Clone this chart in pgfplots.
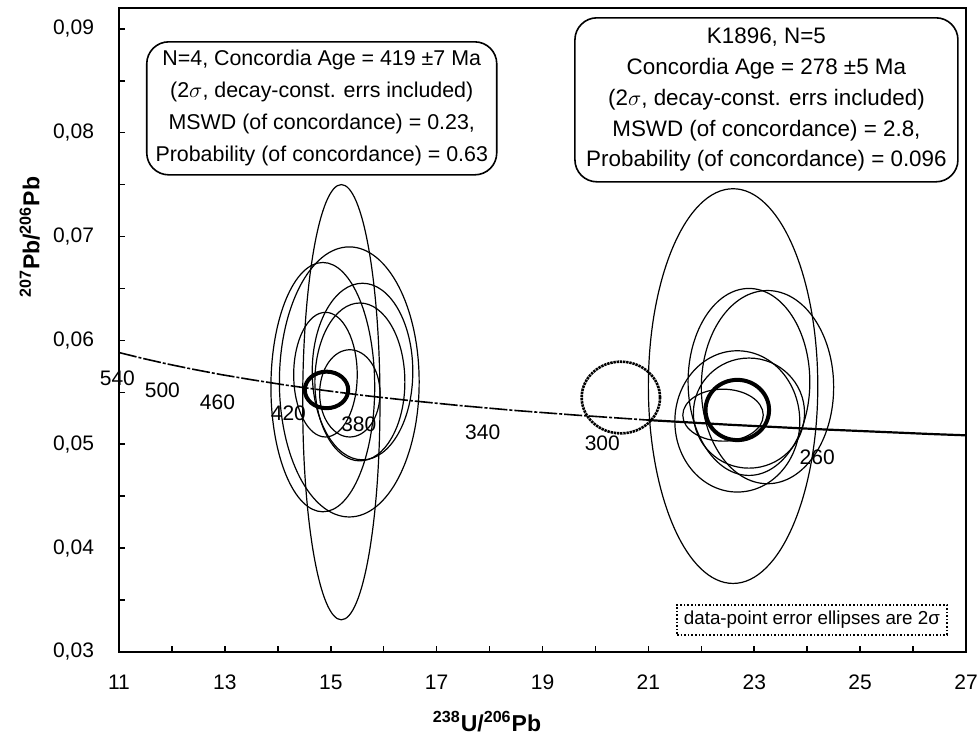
\documentclass[border=0pt]{standalone}
\usepackage{fontspec}
\setmainfont{Liberation Sans}
\usepackage{pgfplots}
\pgfplotsset{compat=1.18}
\begin{document}
\begin{tikzpicture}
\begin{axis}[
  name=ax,
  scale only axis,
  width=423.5pt, height=322pt,
  xmin=11, xmax=27, ymin=0.03, ymax=0.092,
  xtick={11,13,15,17,19,21,23,25,27},
  minor x tick num=1,
  ytick={0.03,0.04,0.05,0.06,0.07,0.08,0.09},
  minor y tick num=1,
  scaled y ticks=false,
  tick pos=left,
  tick align=inside,
  major tick length=3pt, minor tick length=3pt,
  axis line style={line width=1.2pt},
  tick style={black, line width=0.8pt},
  clip=false,
  /pgf/number format/assume math mode=true,
  ticklabel style={font=\fontsize{10.5}{12}\selectfont},
  yticklabel={\pgfmathprintnumber[fixed,fixed zerofill,precision=2,use comma]{\tick}},
  xticklabel={\pgfmathprintnumber[fixed,precision=0]{\tick}},
  xticklabel style={yshift=-8pt},
  yticklabel style={xshift=-9pt},
  xlabel={\textbf{\textsuperscript{238}U/\textsuperscript{206}Pb}},
  ylabel={\textbf{\textsuperscript{207}Pb/\textsuperscript{206}Pb}},
  label style={font=\fontsize{11.5}{13}\selectfont},
  xlabel style={at={(axis description cs:0.4345,0)}, anchor=north, yshift=-26pt},
  ylabel style={at={(axis description cs:0,0.644)}, anchor=south, xshift=0pt, yshift=36pt},
]
% concordia curve (20 Ma steps), older part
\addplot[black, line width=0.8pt, dash pattern=on 9pt off 1pt on 1.5pt off 1pt] table {
x y
11.000 0.05883
11.445 0.05827
11.904 0.05774
12.399 0.05722
12.936 0.05670
13.520 0.05620
14.157 0.05569
14.854 0.05520
15.621 0.05470
16.469 0.05422
17.411 0.05374
18.464 0.05326
19.649 0.05280
20.992 0.05233
};
% concordia curve, younger part
\addplot[black, line width=1.1pt] table {
x y
20.992 0.05233
22.527 0.05188
24.297 0.05143
26.363 0.05098
27.000 0.05086
};
% age labels
\begin{scope}[font=\fontsize{10.5}{12}\selectfont]
\node at (axis cs:10.97,0.05639) {540};
\node at (axis cs:11.82,0.05523) {500};
\node at (axis cs:12.86,0.05408) {460};
\node at (axis cs:14.20,0.05302) {420};
\node at (axis cs:15.53,0.05196) {380};
\node at (axis cs:17.87,0.05119) {340};
\node at (axis cs:20.13,0.05013) {300};
\node at (axis cs:24.19,0.04878) {260};
\end{scope}
% left group error ellipses
\begin{scope}[line width=0.6pt]
\draw (axis cs:15.20,0.05405) ellipse [x radius=0.73, y radius=0.02095];
\draw (axis cs:15.35,0.05600) ellipse [x radius=1.32, y radius=0.01300];
\draw (axis cs:14.85,0.05550) ellipse [x radius=0.98, y radius=0.01200];
\draw (axis cs:15.60,0.05700) ellipse [x radius=0.95, y radius=0.00850];
\draw (axis cs:15.55,0.05600) ellipse [x radius=0.85, y radius=0.00760];
\draw (axis cs:14.90,0.05670) ellipse [x radius=0.60, y radius=0.00600];
\draw (axis cs:15.36,0.05490) ellipse [x radius=0.57, y radius=0.00420];
\end{scope}
\draw[line width=2pt] (axis cs:14.92,0.05523) ellipse [x radius=0.41, y radius=0.00176];
% right group error ellipses
\begin{scope}[line width=0.6pt]
\draw (axis cs:22.60,0.05560) ellipse [x radius=1.60, y radius=0.01900];
\draw (axis cs:22.90,0.05600) ellipse [x radius=1.15, y radius=0.00900];
\draw (axis cs:23.25,0.05550) ellipse [x radius=1.25, y radius=0.00930];
\draw (axis cs:22.68,0.05220) ellipse [x radius=1.18, y radius=0.00680];
\draw (axis cs:22.90,0.05300) ellipse [x radius=1.05, y radius=0.00530];
\draw (axis cs:22.41,0.05280) ellipse [x radius=0.76, y radius=0.00250];
\end{scope}
\draw[line width=2pt] (axis cs:22.68,0.05330) ellipse [x radius=0.60, y radius=0.00290];
% concordia age ellipse (rough line)
\draw[line width=1.3pt, dash pattern=on 1.2pt off 0.4pt] (axis cs:20.48,0.05450) ellipse [x radius=0.74, y radius=0.00345];
% text boxes
\node[draw, rounded corners=11pt, line width=0.8pt, align=center,
      font=\fontsize{10.7}{16}\selectfont, inner sep=0pt,
      minimum width=175pt, minimum height=66.5pt]
  at (axis cs:14.83,0.08234)
  {N=4, Concordia Age = 419 ±7 Ma\\(2$\sigma$, decay-const. errs included)\\MSWD (of concordance) = 0.23,\\Probability (of concordance) = 0.63};
\node[draw, rounded corners=11pt, line width=0.8pt, align=center,
      font=\fontsize{11.2}{15.4}\selectfont, inner sep=0pt,
      minimum width=191.5pt, minimum height=82pt]
  at (axis cs:23.23,0.08316)
  {K1896, N=5\\Concordia Age = 278 ±5 Ma\\(2$\sigma$, decay-const. errs included)\\MSWD (of concordance) = 2.8,\\Probability (of concordance) = 0.096};
\node[draw, densely dotted, line width=0.8pt, font=\fontsize{9.4}{11}\selectfont,
      inner sep=1pt, minimum width=135pt, minimum height=15pt]
  at (axis cs:24.09,0.0331) {data-point error ellipses are 2σ};
\end{axis}
\pgfresetboundingbox
\path[use as bounding box] ([shift={(-59.5pt,-43pt)}]ax.south west) rectangle ([shift={(6pt,4pt)}]ax.north east);
\end{tikzpicture}
\end{document}
